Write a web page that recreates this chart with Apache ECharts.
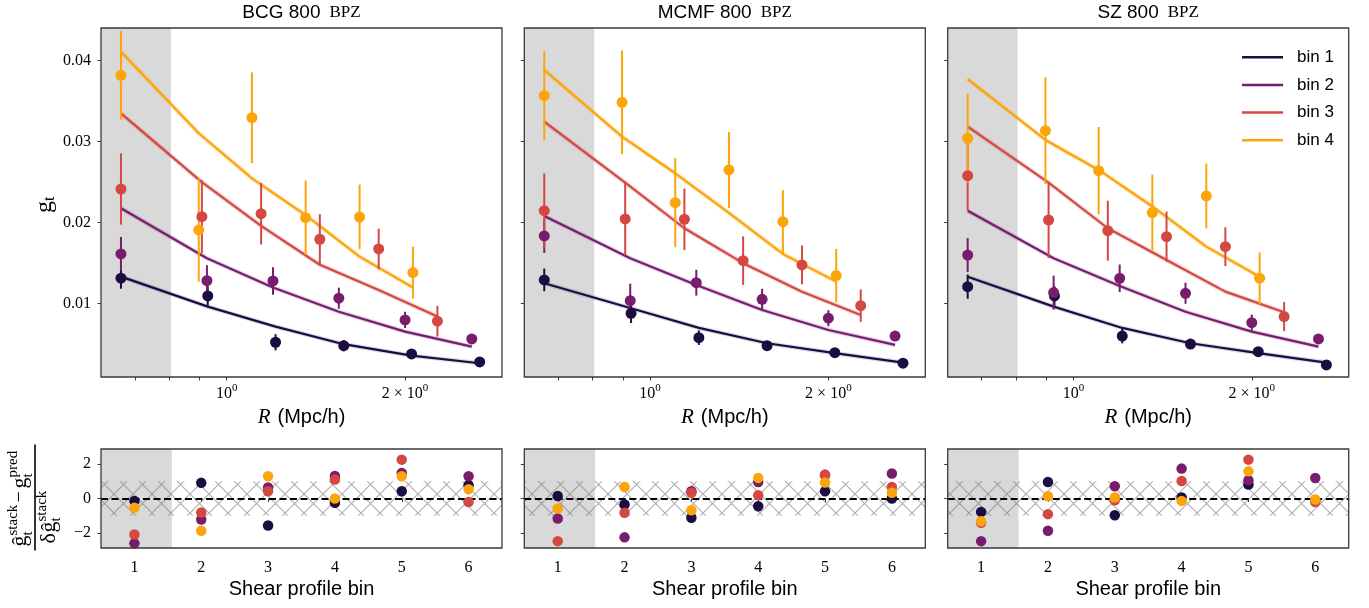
<!DOCTYPE html>
<html><head><meta charset="utf-8">
<script src="https://cdn.jsdelivr.net/npm/echarts@6/dist/echarts.min.js"></script>
<style>html,body{margin:0;padding:0;background:#fff;}#c{width:1369px;height:608px;}</style>
</head><body><div id="c"></div>
<script>
// ---------- data ----------
const BIN_NAMES = ['bin 1', 'bin 2', 'bin 3', 'bin 4'];
const BIN_COLORS = ['#1b0c41', '#781c6d', '#d44842', '#fca50a'];
const PANEL_TITLES = ['BCG 800', 'MCMF 800', 'SZ 800'];
const PANEL_SUFFIX = 'BPZ';

// radius of each shear profile point, per richness bin (Mpc/h)
const R_BIN1 = [0.663, 0.929, 1.209, 1.576, 2.051, 2.673];
const R_BIN2 = [0.663, 0.926, 1.197, 1.546, 2.000, 2.592];
const R_BIN3 = [0.663, 0.908, 1.143, 1.436, 1.805, 2.268];
const R_BIN4 = [0.663, 0.897, 1.103, 1.359, 1.676, 2.062];

// BCG
const BCG_GT = [
  [0.01314, 0.01095, 0.00523, 0.00481, 0.00379, 0.00280],
  [0.01614, 0.01284, 0.01280, 0.01067, 0.00799, 0.00564],
  [0.02415, 0.02074, 0.02111, 0.01795, 0.01675, 0.00783],
  [0.03820, 0.01910, 0.03296, 0.02062, 0.02070, 0.01383]];
const BCG_ERR = [
  [0.0013, 0.0012, 0.0010, 0.0007, 0.0004, 0.0003],
  [0.0021, 0.0019, 0.0017, 0.0013, 0.0010, 0.0006],
  [0.0044, 0.0045, 0.0038, 0.0031, 0.0025, 0.0019],
  [0.0055, 0.0064, 0.0056, 0.0046, 0.0040, 0.0032]];
const BCG_MODEL = [
  [0.01334, 0.00963, 0.00716, 0.00499, 0.00358, 0.00264],
  [0.02178, 0.01560, 0.01200, 0.00900, 0.00654, 0.00469],
  [0.03350, 0.02500, 0.01960, 0.01480, 0.01169, 0.00840],
  [0.04111, 0.03104, 0.02548, 0.02094, 0.01580, 0.01200]];
const BCG_RESID = [
  [-0.14, 0.91, -1.57, -0.25, 0.42, 0.77],
  [-2.61, -1.22, 0.64, 1.31, 1.49, 1.29],
  [-2.09, -0.81, 0.42, 1.10, 2.26, -0.20],
  [-0.54, -1.88, 1.29, 0.00, 1.29, 0.54]];

// MCMF
const MCMF_GT = [
  [0.01293, 0.00881, 0.00580, 0.00481, 0.00395, 0.00264],
  [0.01836, 0.01037, 0.01259, 0.01054, 0.00820, 0.00600],
  [0.02148, 0.02046, 0.02042, 0.01531, 0.01478, 0.00975],
  [0.03568, 0.03486, 0.02247, 0.02651, 0.02012, 0.01346]];
const MCMF_ERR = [
  [0.0014, 0.0012, 0.0009, 0.0006, 0.0004, 0.0003],
  [0.0021, 0.0021, 0.0016, 0.0013, 0.0010, 0.0006],
  [0.0046, 0.0045, 0.0038, 0.0030, 0.0024, 0.0020],
  [0.0055, 0.0064, 0.0055, 0.0047, 0.0039, 0.0033]];
const MCMF_MODEL = [
  [0.01252, 0.00943, 0.00700, 0.00511, 0.00388, 0.00272],
  [0.02083, 0.01560, 0.01231, 0.00922, 0.00675, 0.00490],
  [0.03247, 0.02494, 0.01931, 0.01500, 0.01148, 0.00860],
  [0.03885, 0.03062, 0.02610, 0.02120, 0.01614, 0.01272]];
const MCMF_RESID = [
  [0.15, -0.35, -1.12, -0.45, 0.42, 0.00],
  [-1.16, -2.26, 0.42, 0.96, 1.35, 1.45],
  [-2.48, -0.83, 0.33, 0.19, 1.39, 0.67],
  [-0.58, 0.67, -0.68, 1.20, 0.93, 0.33]];

// SZ
const SZ_GT = [
  [0.01210, 0.01095, 0.00600, 0.00500, 0.00407, 0.00243],
  [0.01600, 0.01136, 0.01313, 0.01128, 0.00765, 0.00564],
  [0.02580, 0.02033, 0.01901, 0.01827, 0.01704, 0.00840],
  [0.03042, 0.03136, 0.02642, 0.02124, 0.02330, 0.01314]];
const SZ_ERR = [
  [0.0015, 0.0012, 0.0009, 0.0006, 0.0004, 0.0003],
  [0.0021, 0.0021, 0.0017, 0.0013, 0.0010, 0.0006],
  [0.0043, 0.0047, 0.0037, 0.0031, 0.0024, 0.0018],
  [0.0055, 0.0066, 0.0054, 0.0047, 0.0040, 0.0032]];
const SZ_MODEL = [
  [0.01333, 0.00960, 0.00700, 0.00511, 0.00388, 0.00272],
  [0.02148, 0.01560, 0.01219, 0.00900, 0.00654, 0.00469],
  [0.03185, 0.02494, 0.01931, 0.01540, 0.01148, 0.00893],
  [0.03774, 0.03021, 0.02651, 0.02200, 0.01704, 0.01333]];
const SZ_RESID = [
  [-0.78, 0.96, -0.97, 0.06, 0.81, -0.10],
  [-2.48, -1.88, 0.71, 1.74, 1.06, 1.19],
  [-1.41, -0.91, -0.10, 1.02, 2.26, -0.20],
  [-1.32, 0.13, 0.06, -0.14, 1.58, -0.06]];

const PROFILE_BINS = [1, 2, 3, 4, 5, 6];
const X_TICKS = [0.7, 0.8, 0.9, 1, 2];
const X_LABELS = [1, 2];
const Y_TICKS = [0.01, 0.02, 0.03, 0.04];
const RES_TICKS = [-2, 0, 2];
const X_RANGE = [0.6135, 2.915];
const Y_RANGE = [0.00094, 0.04404];
const RES_X_RANGE = [0.5, 6.5];
const RES_Y_RANGE = [-2.88, 2.88];
const EXCLUDED_R = 0.805;    // gray region upper edge (R)
const EXCLUDED_BIN = 1.56;   // gray region upper edge (profile bin)
const BAND = [-1, 1];

// ---------- assembly ----------
const R_ALL = [R_BIN1, R_BIN2, R_BIN3, R_BIN4];
const PANELS = [
  {gt: BCG_GT, err: BCG_ERR, model: BCG_MODEL, resid: BCG_RESID},
  {gt: MCMF_GT, err: MCMF_ERR, model: MCMF_MODEL, resid: MCMF_RESID},
  {gt: SZ_GT, err: SZ_ERR, model: SZ_MODEL, resid: SZ_RESID}];

const LEFTS = [101, 524.3, 947.7];
const W = 401;
const SERIF = 'Liberation Serif';
const SANS = 'Liberation Sans';
const SPINE = '#3a3a3a';

// hatch pattern
const hatch = document.createElement('canvas');
hatch.width = 19; hatch.height = 19;
(function () {
  const c = hatch.getContext('2d');
  c.strokeStyle = 'rgba(120,120,120,0.6)';
  c.lineWidth = 1.1;
  c.beginPath();
  c.moveTo(-1, -1); c.lineTo(20, 20);
  c.moveTo(20, -1); c.lineTo(-1, 20);
  c.stroke();
})();

const grids = [], xAxes = [], yAxes = [], series = [];
const tickStyle = {length: 3.5, lineStyle: {color: SPINE, width: 1}};
const supRich = {
  n: {fontFamily: SERIF, fontSize: 16, lineHeight: 22, color: '#000'},
  s: {fontFamily: SERIF, fontSize: 11, lineHeight: 11, verticalAlign: 'top', color: '#000'}
};

for (let p = 0; p < 3; p++) {
  grids.push({left: LEFTS[p], top: 28, width: W, height: 349, show: true, borderColor: SPINE, borderWidth: 1.3, backgroundColor: 'transparent', z: 10});
  xAxes.push({
    type: 'log', logBase: 10, gridIndex: p, min: X_RANGE[0], max: X_RANGE[1],
    axisLine: {show: false}, splitLine: {show: false}, minorTick: {show: false},
    axisTick: Object.assign({show: true, customValues: X_TICKS}, tickStyle),
    axisLabel: {
      show: true, customValues: X_LABELS, margin: 6, rich: supRich,
      formatter: function (v) {
        const m = Math.round(v);
        return m === 1 ? '{n|10}{s|0}' : '{n|' + m + ' × 10}{s|0}';
      }
    }
  });
  yAxes.push({
    type: 'value', gridIndex: p, min: Y_RANGE[0], max: Y_RANGE[1],
    axisLine: {show: false}, splitLine: {show: false},
    axisTick: Object.assign({show: true, customValues: Y_TICKS}, tickStyle),
    axisLabel: {show: p === 0, customValues: Y_TICKS, margin: 10, fontFamily: SERIF, fontSize: 16, color: '#000',
      formatter: v => v.toFixed(2)}
  });
}
for (let p = 0; p < 3; p++) {
  grids.push({left: LEFTS[p], top: 449, width: W, height: 99, show: true, borderColor: SPINE, borderWidth: 1.3, backgroundColor: 'transparent', z: 10});
  xAxes.push({
    type: 'value', gridIndex: 3 + p, min: RES_X_RANGE[0], max: RES_X_RANGE[1],
    axisLine: {show: false}, splitLine: {show: false},
    axisTick: Object.assign({show: true, customValues: PROFILE_BINS}, tickStyle),
    axisLabel: {show: true, customValues: PROFILE_BINS, margin: 12, fontFamily: SERIF, fontSize: 16, color: '#000'}
  });
  yAxes.push({
    type: 'value', gridIndex: 3 + p, min: RES_Y_RANGE[0], max: RES_Y_RANGE[1],
    axisLine: {show: false}, splitLine: {show: false},
    axisTick: Object.assign({show: true, customValues: RES_TICKS}, tickStyle),
    axisLabel: {show: p === 0, customValues: RES_TICKS, margin: 10, fontFamily: SERIF, fontSize: 16, color: '#000',
      formatter: v => (v < 0 ? '\u2212' : '') + Math.abs(v)}
  });
}

for (let p = 0; p < 3; p++) {
  const P = PANELS[p];
  // excluded region
  series.push({
    type: 'line', xAxisIndex: p, yAxisIndex: p, data: [], z: 1, silent: true,
    markArea: {silent: true, itemStyle: {color: '#d9d9d9', opacity: 1},
      data: [[{xAxis: X_RANGE[0], yAxis: Y_RANGE[0]}, {xAxis: EXCLUDED_R, yAxis: Y_RANGE[1]}]]}
  });
  for (let b = 0; b < 4; b++) {
    const col = BIN_COLORS[b];
    const R = R_ALL[b];
    const modelData = R.map((r, i) => [r, P.model[b][i]]);
    series.push({
      type: 'line', name: 'halo' + b, xAxisIndex: p, yAxisIndex: p, data: modelData, z: 2, silent: true,
      showSymbol: false, symbol: 'none', lineStyle: {color: col, width: 4.5, opacity: 0.15 + 0.04 * b}, itemStyle: {color: col}
    });
    series.push({
      type: 'line', name: BIN_NAMES[b], xAxisIndex: p, yAxisIndex: p, data: modelData, z: 3, silent: true,
      showSymbol: false, symbol: 'none', lineStyle: {color: col, width: 2.2}, itemStyle: {color: col}
    });
    series.push({
      type: 'custom', name: 'err' + b, xAxisIndex: p, yAxisIndex: p, z: 4, silent: true,
      data: R.map((r, i) => [r, P.gt[b][i] - P.err[b][i], P.gt[b][i] + P.err[b][i]]),
      encode: {x: 0, y: [1, 2]},
      renderItem: function (params, api) {
        const a = api.coord([api.value(0), api.value(1)]);
        const c = api.coord([api.value(0), api.value(2)]);
        return {type: 'line', shape: {x1: a[0], y1: a[1], x2: c[0], y2: c[1]}, style: {stroke: col, lineWidth: 2}};
      }
    });
    series.push({
      type: 'scatter', name: 'pt' + b, xAxisIndex: p, yAxisIndex: p, z: 5, silent: true,
      data: R.map((r, i) => [r, P.gt[b][i]]), symbolSize: 11, itemStyle: {color: col, opacity: 1}
    });
  }
  // residual panel
  const gi = 3 + p;
  series.push({
    type: 'line', xAxisIndex: gi, yAxisIndex: gi, data: [], z: 1, silent: true,
    markArea: {silent: true, itemStyle: {color: '#d9d9d9', opacity: 1},
      data: [[{xAxis: RES_X_RANGE[0], yAxis: RES_Y_RANGE[0]}, {xAxis: EXCLUDED_BIN, yAxis: RES_Y_RANGE[1]}]]}
  });
  series.push({
    type: 'line', xAxisIndex: gi, yAxisIndex: gi, data: [], z: 2, silent: true,
    markArea: {silent: true, itemStyle: {color: {image: hatch, repeat: 'repeat'}, opacity: 1},
      data: [[{xAxis: RES_X_RANGE[0], yAxis: BAND[0]}, {xAxis: RES_X_RANGE[1], yAxis: BAND[1]}]]},
    markLine: {silent: true, symbol: ['none', 'none'], label: {show: false},
      lineStyle: {color: '#000', width: 2, type: [7, 3.5]}, data: [{yAxis: 0}]}
  });
  for (let b = 0; b < 4; b++) {
    series.push({
      type: 'scatter', name: 'res' + b, xAxisIndex: gi, yAxisIndex: gi, z: 5, silent: true,
      data: PROFILE_BINS.map((x, i) => [x, P.resid[b][i]]), symbolSize: 10.5,
      itemStyle: {color: BIN_COLORS[b], opacity: 1}
    });
  }
}

// ---------- texts ----------
const graphics = [];
function txt(x, y, text, extra) {
  return {type: 'text', x: x, y: y, silent: true,
    style: Object.assign({text: text, fill: '#000', align: 'center', verticalAlign: 'middle',
      textAlign: 'center', textVerticalAlign: 'middle'}, extra || {})};
}
for (let p = 0; p < 3; p++) {
  const cx = LEFTS[p] + W / 2;
  graphics.push(txt(cx, 13, '{a|' + PANEL_TITLES[p] + '}{b|' + PANEL_SUFFIX + '}', {
    rich: {a: {fontFamily: SANS, fontSize: 19, color: '#000'},
      b: {fontFamily: SERIF, fontSize: 17, color: '#000', padding: [0, 0, 0, 9]}}
  }));
  graphics.push(txt(cx, 417, '{i|R}{s|(Mpc/h)}', {
    rich: {i: {fontFamily: SERIF, fontStyle: 'italic', fontSize: 21, color: '#000'},
      s: {fontFamily: SANS, fontSize: 20, color: '#000', padding: [0, 0, 0, 7]}}
  }));
  graphics.push(txt(cx, 589, 'Shear profile bin', {fontFamily: SANS, fontSize: 20}));
}
// g_t label
graphics.push({type: 'group', x: 45, y: 205, rotation: Math.PI / 2, silent: true, children: [
  {type: 'text', x: -8, y: 0, style: {text: 'g', fontFamily: SERIF, fontSize: 24, fill: '#000', align: 'left', verticalAlign: 'middle'}},
  {type: 'text', x: 4, y: 5, style: {text: 't', fontFamily: SERIF, fontSize: 16, fill: '#000', align: 'left', verticalAlign: 'middle'}}
]});
// residual label (fraction)
function sText(x, y, t, fs) {
  return {type: 'text', x: x, y: y, style: {text: t, fontFamily: SERIF, fontSize: fs, fill: '#000', align: 'left', verticalAlign: 'middle'}};
}
graphics.push({type: 'group', x: 35, y: 497.5, rotation: Math.PI / 2, silent: true, children: [
  {type: 'line', shape: {x1: -53, y1: 0, x2: 53, y2: 0}, style: {stroke: '#000', lineWidth: 1.6}},
  sText(-49, -15, '\u011d', 22), sText(-38, -22, 'stack', 15), sText(-38, -7, 't', 15),
  sText(-5, -15, '\u2212', 20), sText(9, -15, 'g', 22), sText(20, -22, 'pred', 15), sText(20, -7, 't', 15),
  sText(-46, 14, '\u03b4', 22), sText(-35, 14, '\u011d', 22), sText(-24, 7, 'stack', 15), sText(-24, 21, 't', 15)
]});

const chart = echarts.init(document.getElementById('c'), null, {renderer: 'canvas'});
chart.setOption({
  animation: false,
  backgroundColor: '#fff',
  textStyle: {fontFamily: SERIF},
  grid: grids, xAxis: xAxes, yAxis: yAxes, series: series,
  legend: {
    show: true, orient: 'vertical', left: 1237, top: 43.7, itemWidth: 41, itemHeight: 2.5, itemGap: 10.7,
    icon: 'rect', selectedMode: false, data: BIN_NAMES,
    textStyle: {fontFamily: SANS, fontSize: 17, color: '#000', lineHeight: 16, padding: [0, 0, 0, 9]}
  },
  graphic: graphics
});
</script></body></html>
